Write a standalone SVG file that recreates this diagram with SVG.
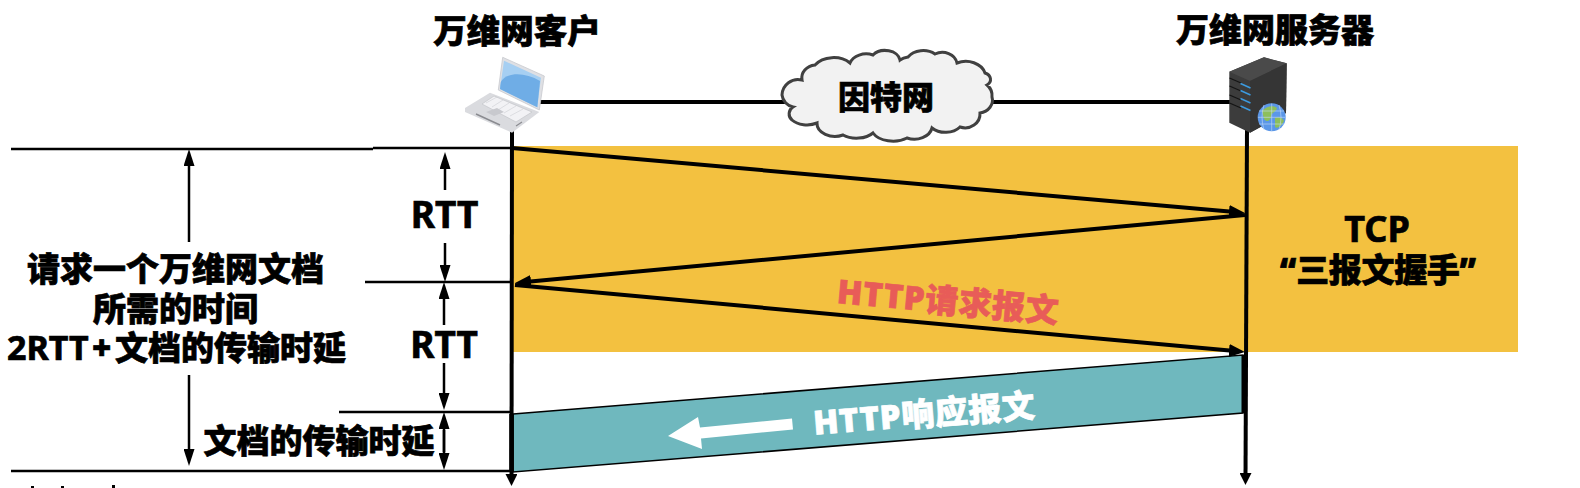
<svg xmlns="http://www.w3.org/2000/svg" width="1580" height="488" viewBox="0 0 1580 488">
<style>
text{font-family:"Noto Sans","Noto Sans CJK SC",sans-serif;font-weight:900;fill:#000;stroke:#000;stroke-width:.7;text-anchor:middle;font-size:33px}
.cjk{font-family:"Noto Sans CJK SC","Noto Sans",sans-serif}
.lat{font-weight:700}
.thin{stroke:#000;stroke-width:2.5;fill:none}
.rule{stroke:#000;stroke-width:2.5;fill:none}
.msg{stroke:#000;stroke-width:4;fill:none}
.led{stroke:#3c9be0;stroke-width:1.4}
.slot{stroke:#141414;stroke-width:1.2}
</style>
<defs>
<marker id="thinHead" markerUnits="userSpaceOnUse" viewBox="0 0 17 11" markerWidth="17" markerHeight="11" refX="7" refY="5.5" orient="auto"><path d="M0 0L17 5.5L0 11Z" fill="#000"/></marker>
<marker id="msgHead" markerUnits="userSpaceOnUse" viewBox="0 0 16 13" markerWidth="16" markerHeight="13" refX="6" refY="6.5" orient="auto"><path d="M0 0L16 6.5L0 13Z" fill="#000"/></marker>
<marker id="axisHead" markerUnits="userSpaceOnUse" viewBox="0 0 12 12" markerWidth="12" markerHeight="12" refX="4" refY="6" orient="auto"><path d="M0 0L12 6L0 12Z" fill="#000"/></marker>
</defs>

<rect id="handshake-band" x="512" y="146" width="1006" height="206" fill="#F3C140"/>
<polygon id="response-band" points="513,414 1243,355 1243,413 513,472" fill="#6FB8BE" stroke="#000" stroke-width="1.5"/>

<g id="connectors">
<line class="msg" x1="540" y1="102" x2="790" y2="102"/>
<line class="msg" x1="985" y1="102" x2="1232" y2="102"/>
<line class="msg" x1="512" y1="126" x2="511.5" y2="478" marker-end="url(#axisHead)"/>
<line class="msg" x1="1247" y1="127" x2="1245.5" y2="477" marker-end="url(#axisHead)"/>
<line x1="511.5" y1="414" x2="511.5" y2="472" stroke="#000" stroke-width="4.5"/>
<line x1="1243.5" y1="355" x2="1243.5" y2="413" stroke="#000" stroke-width="4"/>
<line class="msg" x1="512" y1="148" x2="1235" y2="212.1" marker-end="url(#msgHead)"/>
<line class="msg" x1="1245" y1="215" x2="525" y2="282.1" marker-end="url(#msgHead)"/>
<line class="msg" x1="515" y1="285" x2="1235" y2="351.1" marker-end="url(#msgHead)"/>
<line class="rule" x1="11" y1="149" x2="373" y2="149"/>
<line class="rule" x1="373" y1="148" x2="512" y2="148"/>
<line class="rule" x1="365" y1="282" x2="512" y2="282"/>
<line class="rule" x1="339" y1="412" x2="512" y2="412"/>
<line class="rule" x1="11" y1="471" x2="512" y2="471"/>
<line class="thin" x1="189" y1="242" x2="189" y2="159" marker-end="url(#thinHead)"/>
<line class="thin" x1="189" y1="375" x2="189" y2="456" marker-end="url(#thinHead)"/>
<line class="thin" x1="445" y1="190" x2="445" y2="162" marker-end="url(#thinHead)"/>
<line class="thin" x1="445" y1="243" x2="445" y2="272" marker-end="url(#thinHead)"/>
<line class="thin" x1="444" y1="325" x2="444" y2="292" marker-end="url(#thinHead)"/>
<line class="thin" x1="444" y1="363" x2="444" y2="400" marker-end="url(#thinHead)"/>
<line class="thin" x1="444" y1="452" x2="444" y2="422" marker-end="url(#thinHead)"/>
<line class="thin" x1="444" y1="430" x2="444" y2="460" marker-end="url(#thinHead)"/>
</g>

<g id="client">
<path d="M502.7 57.3L544.3 76L539.3 110L498.3 90Z" fill="#DFE0E4" stroke="#C8C9CE" stroke-width=".8"/>
<path d="M504 60.7L541 77.7L537.3 107.3L500 89Z" fill="#A6CFF2"/>
<path d="M500.8 82C506 72 525 72 540 81L537.3 107.3L500 89Z" fill="#6FADE6"/>
<path d="M465 108L490 92.7L539.3 112L512 132.7L465 112Z" fill="#DADBDF"/>
<path d="M482 104L494 96L532 112L516 122Z" fill="#F2F2F5" stroke="#C4C5CA" stroke-width=".7"/>
<path d="M486 103L497 97M492 107L503 100M498 110L509 103M504 113L516 106M510 116L523 109" stroke="#CDCED3" stroke-width=".6"/>
<path d="M476 114L500 125" stroke="#8A8B90" stroke-width="1.4"/>
<path d="M486 112L497 108L504 112L494 116Z" fill="#C8C9CE"/>
<path d="M516 126L522 122" stroke="#8A8B90" stroke-width="1.2"/>
<text class="cjk" x="517" y="43" font-size="33.5" style="font-size:33.5px">万维网客户</text>
</g>

<g id="internet">
<path d="M782 95A16 16 0 0 1 802 80A15 13 0 0 1 815 65A22 16 0 0 1 850 63A17 13 0 0 1 873 55A15 11 0 0 1 900 60A14 9 0 0 1 908 57A18 14 0 0 1 935 54A15 13 0 0 1 957 63A20 16 0 0 1 985 73A9 7 0 0 1 987 85A14 14 0 0 1 992 97A15 13 0 0 1 980 113A15 14 0 0 1 960 127A18 13 0 0 1 932 128A18 14 0 0 1 907 138A22 14 0 0 1 873 133A20 12 0 0 1 843 135A18 13 0 0 1 817 123A18 11 0 0 1 792 120A8 8 0 0 1 793 107A14 14 0 0 1 782 95Z" fill="#F2F2F2" stroke="#404040" stroke-width="3"/>
<text class="cjk" x="886" y="109" style="font-size:32px">因特网</text>
</g>

<g id="server">
<path d="M1229.3 71.7L1264 57.3L1286.7 63.3L1286 113L1250 132.7L1229.3 122.7Z" fill="#3C3C3C"/>
<path d="M1229.3 71.7L1264 57.3L1286.7 63.3L1250 81Z" fill="#4A4A4A"/>
<path d="M1250 81L1286.7 63.3L1286 113L1250 132.7Z" fill="#353535"/>
<path class="slot" d="M1229.5 78L1241 83M1229.5 86L1241 91M1229.5 95L1241 100M1229.5 103L1241 108"/>
<path class="led" d="M1240.5 83.5L1250.5 88M1240.5 90.5L1250.5 95M1240.5 98.5L1250.5 103M1240.5 106L1250.5 110.5"/>
<circle cx="1271.7" cy="117.3" r="14" fill="#5B97E8"/>
<path d="M1262 111C1266 106 1274 105 1277 108C1276 113 1271 112 1271 117C1270 122 1266 122 1264 119Z" fill="#8DBF5C"/>
<path d="M1275 118C1279 116 1283 118 1284 121C1281 127 1277 129 1275 127Z" fill="#8DBF5C"/>
<path d="M1259 111H1284M1258 117.3H1285.5M1259 124H1284M1271.7 103.5V131M1264 105Q1260 117 1264 130M1279 105Q1283 117 1279 130" stroke="#C8DCF5" stroke-width=".6" fill="none"/>
<text class="cjk" x="1275" y="42">万维网服务器</text>
</g>

<g id="request-label">
<text x="948" y="313" transform="rotate(5.2 948 301)" style="fill:#E85C58;stroke:#E85C58" textLength="222">HTTP请求报文</text>
</g>
<g id="response-label">
<text x="924" y="426" transform="rotate(-4.6 924 414)" style="fill:#fff;stroke:#fff" textLength="222">HTTP响应报文</text>
<polygon points="792,418.5 700,427.5 698,417 668,436 702,449 701,438.5 793,429.5" fill="#fff"/>
</g>

<g id="labels">
<text class="lat" x="444.5" y="228" style="font-size:37px">RTT</text>
<text class="lat" x="444" y="358" style="font-size:37px">RTT</text>
<text x="175.5" y="281">请求一个万维网文档</text>
<text x="175.5" y="321">所需的时间</text>
<text style="text-anchor:start" y="360"><tspan x="7" class="lat" style="font-size:34px">2RTT</tspan><tspan x="92">+</tspan><tspan x="115">文档的传输时延</tspan></text>
<text x="319" y="453">文档的传输时延</text>
<text class="lat" x="1377" y="242" style="font-size:36px">TCP</text>
<text x="1378" y="282" textLength="196">“三报文握手”</text>
</g>

<g id="clipped-marks" fill="#000">
<rect x="31" y="486" width="3" height="2"/>
<rect x="61" y="486" width="3" height="2"/>
<rect x="112" y="485" width="3" height="3"/>
</g>
</svg>
